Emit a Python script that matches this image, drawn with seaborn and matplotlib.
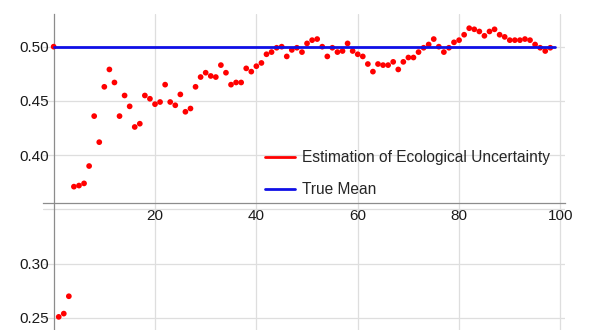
import matplotlib
matplotlib.use('Agg')
import matplotlib.pyplot as plt
from matplotlib.lines import Line2D
from matplotlib.ticker import FixedLocator, MultipleLocator
import seaborn as sns
import pandas as pd

# ── Data ──────────────────────────────────────────────────
trials = list(range(0, 99))
estimates = [
    0.500, 0.251, 0.254, 0.270, 0.371, 0.372, 0.374, 0.390, 0.436, 0.412,
    0.463, 0.479, 0.467, 0.436, 0.455, 0.445, 0.426, 0.429, 0.455, 0.452,
    0.447, 0.449, 0.465, 0.449, 0.446, 0.456, 0.440, 0.443, 0.463, 0.472,
    0.476, 0.473, 0.472, 0.483, 0.476, 0.465, 0.467, 0.467, 0.480, 0.477,
    0.482, 0.485, 0.493, 0.495, 0.499, 0.500, 0.491, 0.497, 0.499, 0.495,
    0.503, 0.506, 0.507, 0.500, 0.491, 0.499, 0.495, 0.496, 0.503, 0.496,
    0.493, 0.491, 0.484, 0.477, 0.484, 0.483, 0.483, 0.486, 0.479, 0.486,
    0.490, 0.490, 0.495, 0.499, 0.502, 0.507, 0.500, 0.495, 0.499, 0.504,
    0.506, 0.511, 0.517, 0.516, 0.514, 0.510, 0.514, 0.516, 0.511, 0.509,
    0.506, 0.506, 0.506, 0.507, 0.506, 0.502, 0.499, 0.496, 0.499,
]
true_mean = 0.5
mean_span = [0, 99]

x_ticks = [20, 40, 60, 80, 100]
y_ticks = [0.25, 0.30, 0.35, 0.40, 0.45, 0.50]
y_tick_labels = ['0.25', '0.30', '', '0.40', '0.45', '0.50']

labels = ['Estimation of Ecological Uncertainty', 'True Mean']

df = pd.DataFrame({'trial': trials, 'estimate': estimates})
mean_df = pd.DataFrame({'trial': mean_span, 'value': [true_mean] * len(mean_span)})

# ── Style ─────────────────────────────────────────────────
sns.set_style('white')
plt.rcParams['font.family'] = ['Liberation Sans', 'DejaVu Sans']

axis_gray = '#8c8c8c'
grid_gray = '#dedede'

fig = plt.figure(figsize=(5.94, 3.30), dpi=100)
ax = fig.add_axes([43 / 594, 0.0, (565 - 43) / 594, (330 - 14) / 330])

sns.scatterplot(data=df, x='trial', y='estimate', ax=ax, color='#ff0000',
                s=17, edgecolor='none', zorder=3, legend=False)
sns.lineplot(data=mean_df, x='trial', y='value', ax=ax, color='#1010e6',
             linewidth=2.0, zorder=4, legend=False)

ax.set_xlim(-2.1, 100.9)
ax.set_ylim(0.2389, 0.5301)

# Mathematica-like crossing axes
for side in ['top', 'right']:
    ax.spines[side].set_visible(False)
ax.spines['left'].set_position(('data', 0))
ax.spines['bottom'].set_position(('data', 0.3557))
for side in ['left', 'bottom']:
    ax.spines[side].set_color(axis_gray)
    ax.spines[side].set_linewidth(0.9)
    ax.spines[side].set_zorder(2)

ax.xaxis.set_major_locator(FixedLocator(x_ticks))
ax.xaxis.set_minor_locator(MultipleLocator(5))
ax.yaxis.set_major_locator(FixedLocator(y_ticks))
ax.set_yticklabels(y_tick_labels)
ax.yaxis.set_minor_locator(MultipleLocator(0.01))

ax.tick_params(axis='both', which='major', direction='in', length=4.5,
               width=0.8, color=axis_gray, labelsize=11, labelcolor='#1a1a1a')
ax.tick_params(axis='both', which='minor', direction='in', length=2.5,
               width=0.7, color=axis_gray)
ax.tick_params(axis='x', which='major', pad=4)
ax.tick_params(axis='y', which='major', pad=3)

ax.grid(True, which='major', color=grid_gray, linewidth=0.9, zorder=0)
ax.set_axisbelow(True)
ax.set_xlabel('')
ax.set_ylabel('')

# ── Legend ────────────────────────────────────────────────
handles = [Line2D([0], [0], color='#ff0000', linewidth=2.0),
           Line2D([0], [0], color='#1010e6', linewidth=2.0)]
ax.legend(handles, labels, loc='upper left',
          bbox_to_anchor=(265 / 594, 1 - 150 / 330),
          bbox_transform=fig.transFigure, frameon=False, fontsize=11.2,
          borderpad=0, borderaxespad=0, handlelength=1.9,
          handletextpad=0.5, labelspacing=1.1)

fig.savefig('out.png', dpi=100)
